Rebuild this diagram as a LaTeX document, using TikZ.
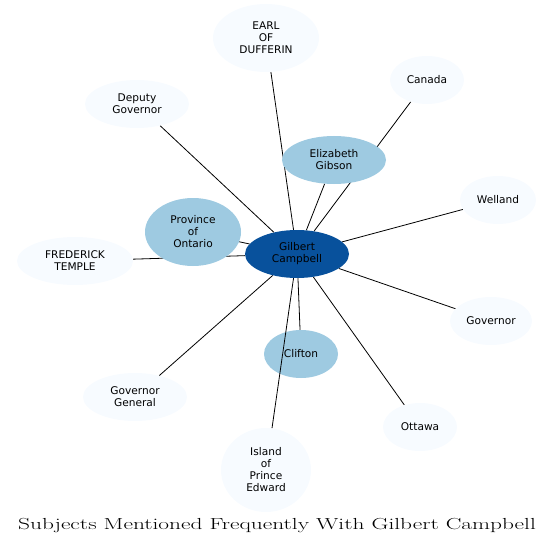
\documentclass[tikz,border=0pt]{standalone}
\usepackage{fontspec}
\setsansfont{DejaVu Sans}
\usetikzlibrary{backgrounds, shapes.geometric}
\definecolor{hub}{HTML}{08519C}
\definecolor{near}{HTML}{9ECAE1}
\definecolor{far}{HTML}{F7FBFF}

\begin{document}
\begin{tikzpicture}[x=1pt, y=-1pt,
    subj/.style={ellipse, fill=far, inner sep=0pt, align=center, font=\sffamily\fontsize{10.6}{12}\selectfont},
    close/.style={subj, fill=near},
    link/.style={draw=black, line width=0.8pt}]
    \useasboundingbox (0,0) rectangle (553,548);

    \node[subj, fill=hub, minimum width=104pt, minimum height=48pt] (gc) at (297,254) {Gilbert\\Campbell};
    \node[close, minimum width=104pt, minimum height=48pt] (eg) at (334,160) {Elizabeth\\Gibson};
    \node[close, minimum width=96pt, minimum height=68pt] (po) at (193,232) {Province\\of\\Ontario};
    \node[close, minimum width=74pt, minimum height=48pt] (cl) at (301,354) {Clifton};
    \node[subj, minimum width=106pt, minimum height=68pt] (ed) at (266,38) {EARL\\OF\\DUFFERIN};
    \node[subj, minimum width=74pt, minimum height=48pt] (ca) at (427,80) {Canada};
    \node[subj, minimum width=104pt, minimum height=48pt] (dg) at (137,104) {Deputy\\Governor};
    \node[subj, minimum width=76pt, minimum height=48pt] (we) at (498,200) {Welland};
    \node[subj, minimum width=116pt, minimum height=48pt] (ft) at (75,261) {FREDERICK\\TEMPLE};
    \node[subj, minimum width=82pt, minimum height=48pt] (go) at (491,321) {Governor};
    \node[subj, minimum width=104pt, minimum height=48pt] (gg) at (135,397) {Governor\\General};
    \node[subj, minimum width=74pt, minimum height=48pt] (ot) at (420,427) {Ottawa};
    \node[subj, minimum width=90pt, minimum height=84pt] (pe) at (266,470) {Island\\of\\Prince\\Edward};

    \node[font=\fontsize{16}{18}\selectfont] (title) at (277,526) {\scalebox{1.46}[1]{Subjects Mentioned Frequently With Gilbert Campbell}};

    \begin{scope}[on background layer]
      \foreach \t in {ed, ca, eg, dg, we, po, ft, go, gg, cl, ot}
        \draw[link] (gc) -- (\t);
    \end{scope}
    \draw[link] (gc) -- (pe);
\end{tikzpicture}
\end{document}
